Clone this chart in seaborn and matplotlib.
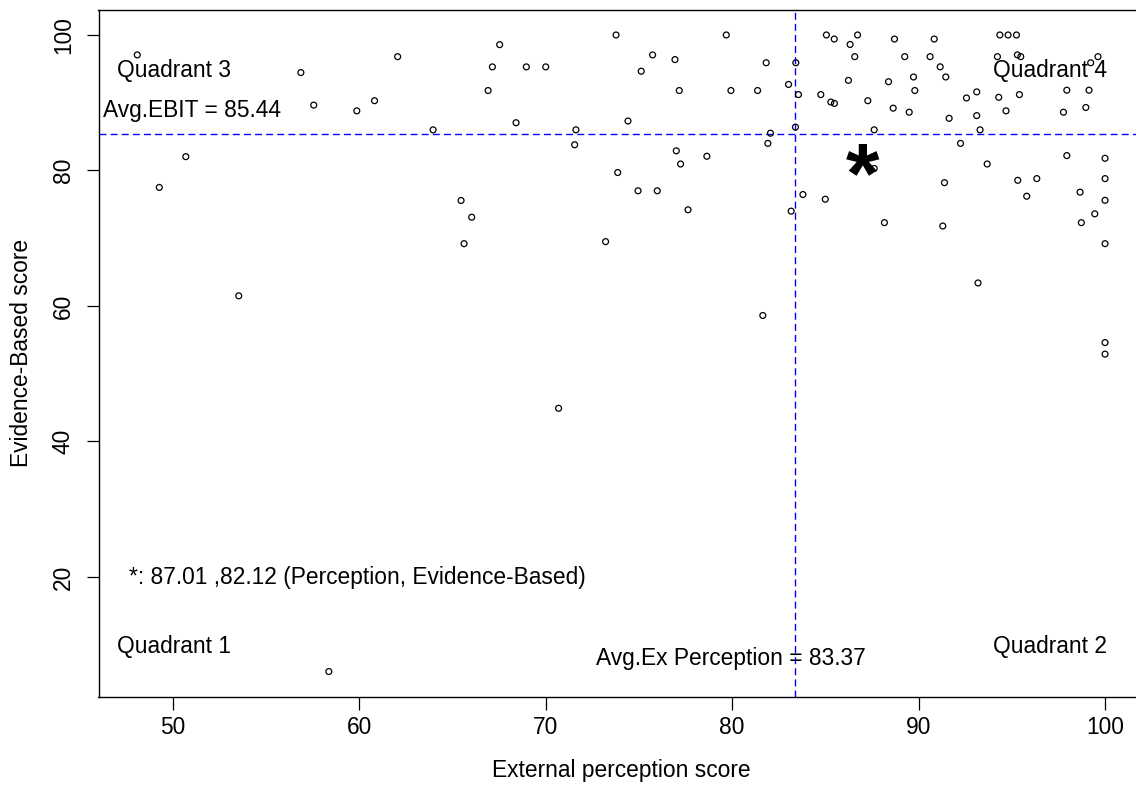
import numpy as np
import pandas as pd
import matplotlib
matplotlib.use("Agg")
import matplotlib.pyplot as plt
import matplotlib.transforms as mtransforms
import seaborn as sns

# ---- data ----
perception = [
    48.11, 62.07, 56.88, 57.57, 59.88, 60.83, 63.97, 50.71, 49.29, 53.55, 70.70, 58.38,
    67.54, 67.15, 68.97, 70.01, 66.92, 68.42, 71.63, 71.56, 73.78, 75.74, 75.13, 76.94,
    77.17, 74.42, 79.69, 81.83, 83.42, 79.94, 81.37, 83.03, 83.56, 83.40, 82.06, 81.92,
    77.01, 77.24, 78.65, 73.87, 74.96, 75.99, 77.64, 83.17, 65.47, 66.04, 65.63, 73.22,
    81.65,
    83.80, 85.00, 85.06, 85.48, 86.73, 86.33, 86.58, 86.24, 84.76, 85.30, 85.49, 87.28,
    87.62, 87.62, 88.71, 89.26, 88.39, 88.64, 89.50, 89.73, 89.80, 90.84, 90.62, 91.16,
    91.46, 91.64, 92.25, 91.39, 91.30, 88.17, 92.57, 93.12, 93.12, 93.30, 93.68, 93.19,
    94.36, 94.80, 95.25, 94.23, 95.30, 95.48, 94.30, 94.69, 95.41, 95.32, 96.34, 95.80,
    97.95, 99.14, 97.77, 98.97, 99.62, 99.23, 97.95, 100.0, 100.0, 100.0, 100.0, 98.66,
    99.45, 98.73, 100.0, 100.0,
]
evidence = [
    97.06, 96.8, 94.45, 89.65, 88.8, 90.3, 86.0, 82.04, 77.5, 61.5, 44.9, 6.05,
    98.57, 95.29, 95.29, 95.29, 91.8, 87.05, 86.0, 83.8, 100.0, 97.06, 94.65, 96.37,
    91.8, 87.3, 100.0, 95.9, 95.9, 91.8, 91.8, 92.7, 91.2, 86.4, 85.5, 84.0,
    82.9, 80.96, 82.1, 79.7, 77.0, 77.0, 74.2, 74.0, 75.57, 73.1, 69.2, 69.5,
    58.6,
    76.45, 75.76, 100.0, 99.4, 100.0, 98.6, 96.8, 93.3, 91.2, 90.1, 89.9, 90.3,
    86.0, 80.3, 99.4, 96.8, 93.1, 89.2, 88.6, 93.8, 91.8, 99.4, 96.8, 95.3,
    93.8, 87.7, 84.0, 78.2, 71.8, 72.3, 90.7, 91.6, 88.1, 86.0, 80.96, 63.4,
    100.0, 100.0, 100.0, 96.8, 97.06, 96.8, 90.8, 88.8, 91.2, 78.55, 78.8, 76.2,
    91.85, 91.85, 88.6, 89.3, 96.8, 95.9, 82.2, 81.8, 78.8, 75.6, 69.2, 76.8,
    73.6, 72.3, 54.6, 52.9,
]
avg_perception = 83.37
avg_ebit = 85.44
star_x = 87.01
star_y = 82.12
x_ticks = [50, 60, 70, 80, 90, 100]
y_ticks = [20, 40, 60, 80, 100]
x_label = "External perception score"
y_label = "Evidence-Based score"
quadrant_names = ["Quadrant 1", "Quadrant 2", "Quadrant 3", "Quadrant 4"]

df = pd.DataFrame({"perception": perception, "evidence": evidence})

sns.set_theme(style="white")
plt.rcParams["font.family"] = ["Liberation Sans", "DejaVu Sans"]
FS = 16.4

W, H = 1136, 786
fig = plt.figure(figsize=(W / 100, H / 100), dpi=100)
ax_l, ax_r, ax_t, ax_b = 98.5, 1136.0, 9.5, 697.0
ax = fig.add_axes([ax_l / W, 1 - ax_b / H, (ax_r - ax_l) / W, (ax_b - ax_t) / H])

sns.scatterplot(data=df, x="perception", y="evidence", ax=ax, marker="o",
                s=18, facecolors="none", edgecolors="black", linewidth=0.9,
                legend=False, zorder=3)

ax.set_xlim(46.03, 101.66)
ax.set_ylim(2.29, 103.76)

blue = "#0000FF"
ax.axhline(avg_ebit, color=blue, lw=1.0, dashes=(5, 3), zorder=2)
ax.axvline(avg_perception, color=blue, lw=1.0, dashes=(5, 3), zorder=2)

# asterisk marker for the highlighted company (glyph sits high, shift down)
star_tr = mtransforms.offset_copy(ax.transData, fig=fig, x=0, y=-24, units="dots")
ax.text(star_x, star_y, "*", fontsize=62, fontweight="bold", color="black",
        ha="center", va="center", zorder=4, transform=star_tr)

ax.text(47.0, 94.7, quadrant_names[2], fontsize=FS, va="center", ha="left", color="black")
ax.text(94.0, 94.7, quadrant_names[3], fontsize=FS, va="center", ha="left", color="black")
ax.text(47.0, 9.77, quadrant_names[0], fontsize=FS, va="center", ha="left", color="black")
ax.text(94.0, 9.77, quadrant_names[1], fontsize=FS, va="center", ha="left", color="black")
ax.text(46.25, 88.8, f"Avg.EBIT = {avg_ebit:.2f}", fontsize=FS, va="center",
        ha="left", color="black")
ax.text(72.72, 8.0, f"Avg.Ex Perception = {avg_perception:.2f}", fontsize=FS,
        va="center", ha="left", color="black")
ax.text(47.64, 19.9, f"*: {star_x:.2f} ,{star_y:.2f} (Perception, Evidence-Based)",
        fontsize=FS, va="center", ha="left", color="black")

ax.set_xticks(x_ticks)
ax.set_yticks(y_ticks)
ax.tick_params(axis="both", which="major", direction="out", length=9, width=0.9,
               color="black", labelsize=FS, labelcolor="black",
               bottom=True, left=True, top=False, right=False)
ax.tick_params(axis="x", pad=5)
ax.tick_params(axis="y", pad=8)
for lab in ax.get_yticklabels():
    lab.set_rotation(90)
    lab.set_va("center")

ax.set_xlabel(x_label, fontsize=FS, color="black")
ax.set_ylabel(y_label, fontsize=FS, color="black")
ax.xaxis.set_label_coords((621 - ax_l) / (ax_r - ax_l), -(771 - ax_b) / (ax_b - ax_t))
ax.yaxis.set_label_coords(-(ax_l - 22) / (ax_r - ax_l), 0.5)
ax.xaxis.label.set_va("center")
ax.yaxis.label.set_va("center")

for side in ["top", "left", "bottom"]:
    ax.spines[side].set_visible(True)
    ax.spines[side].set_color("black")
    ax.spines[side].set_linewidth(1.0)
ax.spines["right"].set_visible(False)
ax.grid(False)

fig.savefig("out.png", dpi=100)
